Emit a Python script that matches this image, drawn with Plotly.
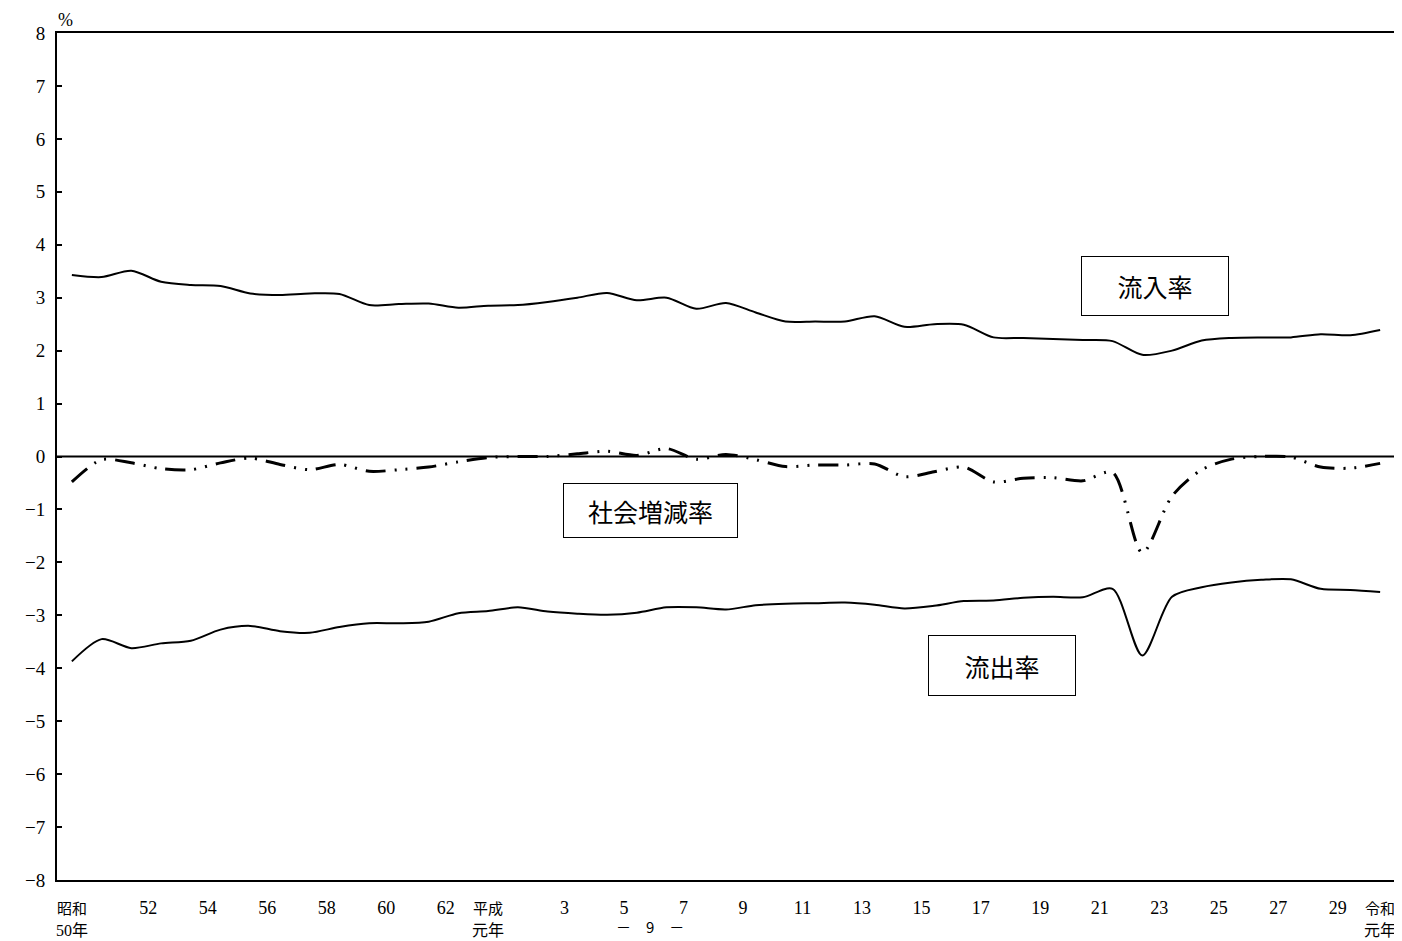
import plotly.graph_objects as go

years = list(range(1975, 2020))

inflow = [3.43, 3.39, 3.51, 3.30, 3.24, 3.22, 3.08, 3.05, 3.08, 3.07,
          2.86, 2.88, 2.89, 2.81, 2.85, 2.86, 2.92, 3.00, 3.09, 2.95,
          3.00, 2.79, 2.90, 2.72, 2.55, 2.55, 2.55, 2.65, 2.45, 2.50,
          2.49, 2.25, 2.24, 2.22, 2.20, 2.18, 1.92, 2.00, 2.19, 2.24,
          2.25, 2.25, 2.31, 2.29, 2.39]

outflow = [-3.87, -3.45, -3.62, -3.53, -3.48, -3.27, -3.20, -3.30, -3.33, -3.22,
           -3.15, -3.15, -3.12, -2.96, -2.92, -2.85, -2.93, -2.97, -2.99, -2.95,
           -2.85, -2.85, -2.89, -2.81, -2.78, -2.77, -2.76, -2.80, -2.87, -2.82,
           -2.73, -2.72, -2.67, -2.65, -2.66, -2.50, -3.76, -2.65, -2.47, -2.38,
           -2.33, -2.32, -2.50, -2.52, -2.56]

social = [-0.48, -0.06, -0.12, -0.23, -0.25, -0.12, -0.03, -0.15, -0.25, -0.15,
          -0.28, -0.25, -0.20, -0.10, -0.02, 0.00, 0.00, 0.05, 0.10, 0.02,
          0.15, -0.05, 0.04, -0.06, -0.19, -0.16, -0.16, -0.14, -0.38, -0.29,
          -0.20, -0.48, -0.41, -0.40, -0.46, -0.30, -1.82, -0.75, -0.25, -0.05,
          0.00, -0.01, -0.20, -0.22, -0.13]

num_tick_years = [1977, 1979, 1981, 1983, 1985, 1987,
                  1991, 1993, 1995, 1997, 1999, 2001, 2003, 2005, 2007,
                  2009, 2011, 2013, 2015, 2017]
num_tick_text = ["52", "54", "56", "58", "60", "62",
                 "3", "5", "7", "9", "11", "13", "15", "17", "19",
                 "21", "23", "25", "27", "29"]
era_years = [1975, 1989, 2019]
era_line1 = ["昭和", "平成", "令和"]
era_line2 = ["50年", "元年", "元年"]

y_ticks = list(range(-8, 9))

series_labels = [("流入率", 2011.43, 3.22, 146, 58),
                 ("社会増減率", 1994.46, -1.02, 173, 53),
                 ("流出率", 2006.29, -3.95, 146, 59)]

SERIF = "Liberation Serif, Noto Sans CJK JP, serif"
CJK = "Noto Sans CJK JP, sans-serif"

fig = go.Figure()
fig.add_trace(go.Scatter(x=years, y=inflow, mode="lines",
                         line=dict(color="black", width=2, shape="spline", smoothing=0.8),
                         name="流入率", showlegend=False))
fig.add_trace(go.Scatter(x=years, y=outflow, mode="lines",
                         line=dict(color="black", width=2, shape="spline", smoothing=0.8),
                         name="流出率", showlegend=False))
fig.add_trace(go.Scatter(x=years, y=social, mode="lines",
                         line=dict(color="black", width=3, shape="spline", smoothing=0.8,
                                   dash="20px,9px,2px,9px,2px,9px"),
                         name="社会増減率", showlegend=False))

annotations = []
for yr, t1, t2 in zip(era_years, era_line1, era_line2):
    annotations.append(dict(x=yr, y=0, xref="x", yref="paper", yanchor="middle",
                            yshift=-27, text=t1, showarrow=False,
                            font=dict(family=CJK, size=15, color="black")))
    annotations.append(dict(x=yr, y=0, xref="x", yref="paper", yanchor="middle",
                            yshift=-50, text=t2, showarrow=False,
                            font=dict(family=SERIF, size=16, color="black")))
for txt, xv, yv, w, h in series_labels:
    annotations.append(dict(x=xv, y=yv, xref="x", yref="y", text=txt, showarrow=False,
                            width=w, height=h, bgcolor="white", bordercolor="black",
                            borderwidth=1, borderpad=0,
                            font=dict(family=CJK, size=25, color="black")))
annotations.append(dict(x=0, y=1, xref="paper", yref="paper", xanchor="left",
                        yanchor="bottom", xshift=-1, yshift=1, text="%", showarrow=False,
                        font=dict(family=SERIF, size=18, color="black")))
annotations.append(dict(x=0.443, y=0, xref="paper", yref="paper", xanchor="center",
                        yanchor="bottom", yshift=-59, text="－　9　－", showarrow=False,
                        font=dict(family=CJK, size=15, color="black")))

fig.update_layout(
    width=1394, height=933,
    margin=dict(l=49, r=7, t=25, b=61),
    paper_bgcolor="white", plot_bgcolor="white",
    showlegend=False,
    annotations=annotations,
    shapes=[dict(type="line", xref="paper", yref="y", x0=0, x1=1, y0=0, y1=0,
                 line=dict(color="black", width=2), layer="below")],
    xaxis=dict(range=[1974.5, 2019.5], tickvals=num_tick_years, ticktext=num_tick_text,
               ticks="", showgrid=False, zeroline=False, showline=True, linecolor="black",
               linewidth=2, mirror=True, ticklabelshift=17, ticklabelstandoff=10,
               automargin=False,
               tickfont=dict(family=SERIF, size=18, color="black")),
    yaxis=dict(range=[-8, 8], tickvals=y_ticks, ticks="inside", ticklen=5, tickwidth=2,
               tickcolor="black", showgrid=False, zeroline=False, showline=True,
               linecolor="black", linewidth=2, mirror=True, ticklabelstandoff=6,
               automargin=False,
               tickfont=dict(family=SERIF, size=19, color="black")),
)

fig.write_html("out.html")
